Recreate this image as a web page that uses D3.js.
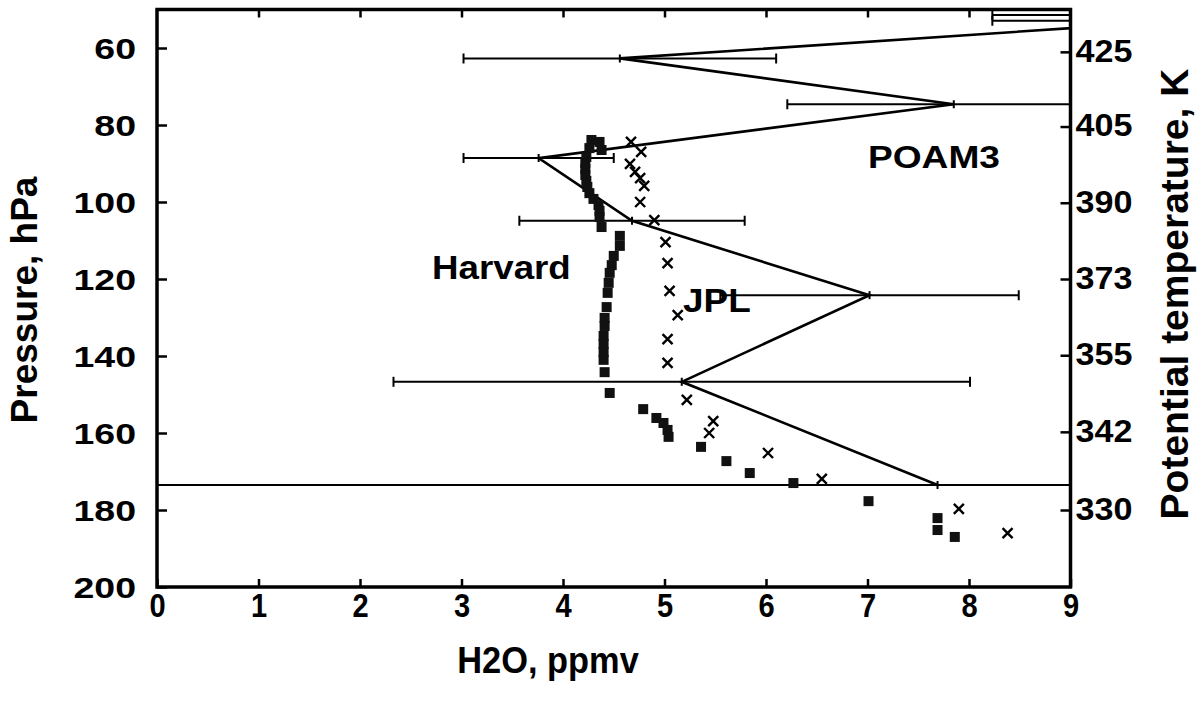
<!DOCTYPE html>
<html>
<head>
<meta charset="utf-8">
<script src="https://cdn.jsdelivr.net/npm/d3@7"></script>
<style>
  html, body { margin: 0; padding: 0; background: #fff; }
  svg { display: block; }
  text { font-family: "Liberation Sans", Arial, Helvetica, sans-serif; font-weight: bold; fill: #000; }
</style>
</head>
<body>
<svg id="chart" width="1198" height="707"></svg>
<script>
// ---------------- data ----------------
const xTickValues = [0, 1, 2, 3, 4, 5, 6, 7, 8, 9];
const topTickValues = [1, 2, 3, 4, 5, 6, 7, 8];
const pressureTicks = [60, 80, 100, 120, 140, 160, 180, 200];
const thetaTickPressures = [61, 80.4, 100.2, 120, 139.8, 159.7, 180];
const thetaLabels = ["425", "405", "390", "373", "355", "342", "330"];

// POAM3 profile (H2O ppmv, pressure hPa, +/- error)
const poamH2O = [10.5, 10.1, 4.56, 7.85, 3.76, 4.68, 7.02, 5.17, 7.69];
const poamP   = [51.4, 52.9, 62.7, 74.6, 88.6, 104.9, 124.2, 146.7, 173.5];
const poamErr = [2.27, 1.87, 1.54, 1.64, 0.74, 1.11, 1.47, 2.84, 8.5];

// Harvard (filled squares)
const harvardH2O = [4.28, 4.36, 4.26, 4.38, 4.23, 4.22, 4.22, 4.22, 4.23, 4.24, 4.26, 4.30, 4.35, 4.36, 4.36, 4.38,
                    4.56, 4.56, 4.50, 4.48, 4.46, 4.45, 4.44, 4.43, 4.41, 4.41, 4.40, 4.40, 4.40, 4.40, 4.41, 4.46,
                    4.79, 4.92, 4.99, 5.03, 5.04, 5.36, 5.61, 5.84, 6.27, 7.01, 7.69, 7.69, 7.86];
const harvardP   = [83.9, 84.4, 86.0, 86.5, 88.3, 89.9, 91.4, 93.0, 94.5, 96.1, 97.7, 99.2, 100.8, 102.3, 103.9, 106.5,
                    108.8, 111.4, 114.0, 116.4, 118.4, 121.0, 123.6, 127.3, 130.1, 132.2, 134.8, 136.9, 139.0, 141.0, 144.2, 149.6,
                    153.8, 156.1, 157.4, 159.2, 161.0, 163.6, 167.3, 170.4, 173.0, 177.7, 182.1, 185.2, 187.0];

// JPL (crosses)
const jplH2O = [4.67, 4.77, 4.66, 4.71, 4.76, 4.80, 4.76, 4.90, 5.01, 5.03, 5.05, 5.13, 5.03, 5.03,
                5.22, 5.48, 5.44, 6.02, 6.55, 7.90, 8.38];
const jplP   = [84.4, 87.0, 90.1, 92.2, 93.8, 95.8, 100.0, 104.7, 110.4, 115.9, 123.1, 129.4, 135.6, 141.8,
                151.4, 156.9, 160.0, 165.2, 171.9, 179.7, 186.0];

// ---------------- layout ----------------
const svg = d3.select("#chart");
const pL = 157, pR = 1070.5, pT = 9.5, pB = 587;

const x = d3.scaleLinear().domain([0, 9]).range([pL, pR]);
const y = d3.scaleLinear().domain([50, 200]).range([pT, pB]);

svg.append("defs").append("clipPath").attr("id", "plotclip")
  .append("rect").attr("x", pL).attr("y", pT).attr("width", pR - pL).attr("height", pB - pT);

const plot = svg.append("g").attr("clip-path", "url(#plotclip)");

// POAM3 error bars
const poam = poamH2O.map((v, i) => ({ v, p: poamP[i], e: poamErr[i] }));
const eb = plot.append("g").attr("stroke", "#000").attr("stroke-width", 2).attr("fill", "none");
poam.forEach(d => {
  const yy = y(d.p);
  eb.append("line").attr("x1", x(d.v - d.e)).attr("x2", x(d.v + d.e)).attr("y1", yy).attr("y2", yy);
  eb.append("line").attr("x1", x(d.v - d.e)).attr("x2", x(d.v - d.e)).attr("y1", yy - 5).attr("y2", yy + 5);
  eb.append("line").attr("x1", x(d.v + d.e)).attr("x2", x(d.v + d.e)).attr("y1", yy - 5).attr("y2", yy + 5);
  eb.append("line").attr("x1", x(d.v)).attr("x2", x(d.v)).attr("y1", yy - 4).attr("y2", yy + 4);
});

// POAM3 connecting line
plot.append("path").datum(poam)
  .attr("fill", "none").attr("stroke", "#000").attr("stroke-width", 2.6)
  .attr("d", d3.line().x(d => x(d.v)).y(d => y(d.p)));

// Harvard squares
const sq = 10;
plot.append("g").selectAll("rect").data(harvardH2O.map((v, i) => ({ v, p: harvardP[i] })))
  .join("rect")
  .attr("x", d => x(d.v) - sq / 2).attr("y", d => y(d.p) - sq / 2)
  .attr("width", sq).attr("height", sq)
  .attr("fill", "#111");

// JPL crosses
const cs = 5;
plot.append("g").attr("stroke", "#000").attr("stroke-width", 2.4)
  .selectAll("path").data(jplH2O.map((v, i) => ({ v, p: jplP[i] })))
  .join("path")
  .attr("d", d => {
    const cx = x(d.v), cy = y(d.p);
    return `M${cx - cs},${cy - cs}L${cx + cs},${cy + cs}M${cx - cs},${cy + cs}L${cx + cs},${cy - cs}`;
  });

// ---------------- axes ----------------
function styleAxis(g) {
  g.select(".domain").remove();
  g.selectAll(".tick line").attr("stroke", "#000").attr("stroke-width", 2.5);
}

// left
const gl = svg.append("g").attr("transform", `translate(${pL},0)`)
  .call(d3.axisLeft(y).tickValues(pressureTicks).tickSize(-10).tickPadding(21).tickFormat(d3.format("d")));
styleAxis(gl);
gl.selectAll(".tick text").attr("font-size", 30).attr("x", 0).attr("dy", "0.36em")
  .attr("transform", "translate(-21,0) scale(1.25,1)");

// bottom
const gb = svg.append("g").attr("transform", `translate(0,${pB})`)
  .call(d3.axisBottom(x).tickValues(xTickValues).tickSize(-8).tickPadding(8).tickFormat(d3.format("d")));
styleAxis(gb);
gb.selectAll(".tick text").attr("font-size", 33).attr("y", 0)
  .attr("transform", "translate(0,7) scale(0.88,1)");

// top (ticks only)
const gt = svg.append("g").attr("transform", `translate(0,${pT})`)
  .call(d3.axisTop(x).tickValues(topTickValues).tickSize(-8).tickFormat(""));
styleAxis(gt);

// right (potential temperature)
const gr = svg.append("g").attr("transform", `translate(${pR},0)`)
  .call(d3.axisRight(y).tickValues(thetaTickPressures).tickSize(-10).tickPadding(5)
    .tickFormat((d, i) => thetaLabels[i]));
styleAxis(gr);
gr.selectAll(".tick text").attr("font-size", 31).attr("x", 0).attr("dy", "0.3em")
  .attr("transform", "translate(5,0) scale(1.1,1)");

// frame
svg.append("rect").attr("x", pL).attr("y", pT).attr("width", pR - pL).attr("height", pB - pT)
  .attr("fill", "none").attr("stroke", "#000").attr("stroke-width", 3.5);

// ---------------- titles & labels ----------------
svg.append("text").attr("font-size", 37).attr("text-anchor", "middle")
  .attr("transform", "translate(37,300) rotate(-90)").text("Pressure, hPa");

svg.append("text").attr("font-size", 39).attr("text-anchor", "middle")
  .attr("transform", "translate(1188,294) rotate(-90)").text("Potential temperature, K");

svg.append("text").attr("font-size", 37).attr("text-anchor", "middle")
  .attr("transform", "translate(548,673) scale(0.93,1)").text("H2O, ppmv");

svg.append("text").attr("font-size", 32)
  .attr("transform", "translate(868,168) scale(1.16,1)").text("POAM3");
svg.append("text").attr("font-size", 34)
  .attr("transform", "translate(432,279) scale(1.08,1)").text("Harvard");
svg.append("text").attr("font-size", 33)
  .attr("transform", "translate(683,312) scale(1.12,1)").text("JPL");
</script>
</body>
</html>
